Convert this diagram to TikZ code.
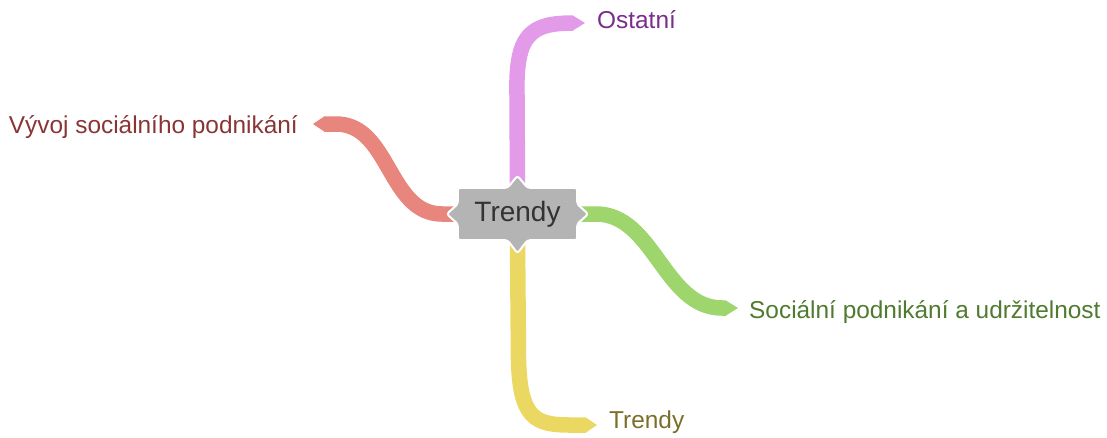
\documentclass[tikz,border=0pt]{standalone}
\usepackage{fontspec}
\setmainfont{Liberation Sans}
\usetikzlibrary{backgrounds,calc}
\definecolor{ribP}{HTML}{E29AE9}
\definecolor{ribR}{HTML}{E8857D}
\definecolor{ribG}{HTML}{9ED56C}
\definecolor{ribY}{HTML}{EBD862}
\definecolor{boxgray}{HTML}{B4B4B4}
\definecolor{txtgray}{HTML}{333333}
\definecolor{txtP}{HTML}{7A2D8A}
\definecolor{txtR}{HTML}{8A3535}
\definecolor{txtG}{HTML}{4F7A2F}
\definecolor{txtY}{HTML}{7A6E28}
\begin{document}
\begin{tikzpicture}[x=1pt,y=-1pt,
  rib/.style={line width=15.5pt, line cap=butt},
  lbl/.style={inner sep=0pt, font=\fontsize{24.4}{29}\selectfont},
  centre/.style={inner sep=0pt, minimum width=119pt, minimum height=52pt, text=txtgray, font=\fontsize{28}{32}\selectfont}]
\useasboundingbox (0,0) rectangle (1107,437);
% central topic
\node[centre] (c) at (517.5,214) {Trendy};
% ribbon end points
\coordinate (tP) at (585,23);
\coordinate (tR) at (313,124);
\coordinate (tG) at (738,308);
\coordinate (tY) at (597,425);
% labels
\node[lbl, text=txtP, anchor=base west] (lP) at (597,28.3) {Ostatní};
\node[lbl, text=txtR, anchor=base east] (lR) at (298,133.3) {Vývoj sociálního podnikání};
\node[lbl, text=txtG, anchor=base west] (lG) at (749,318.3) {Sociální podnikání a udržitelnost};
\node[lbl, text=txtY, anchor=base west] (lY) at (609,428.3) {Trendy};
\begin{pgfonlayer}{background}
  % purple
  \draw[rib, ribP] (c.north) -- (517,95) .. controls (515.5,35) and (530,23) .. ([xshift=-12pt]tP);
  \fill[ribP] ([xshift=-12.5pt,yshift=7.75pt]tP) -- (tP) -- ([xshift=-12.5pt,yshift=-7.75pt]tP) -- cycle;
  % red
  \draw[rib, ribR] (c.west) -- (442,214) .. controls (388,214) and (390,124) .. (336,124) -- ([xshift=11pt]tR);
  \fill[ribR] ([xshift=11.5pt,yshift=7.75pt]tR) -- (tR) -- ([xshift=11.5pt,yshift=-7.75pt]tR) -- cycle;
  % green
  \draw[rib, ribG] (c.east) -- (596,214) .. controls (654,214) and (664,308) .. (722,308) -- ([xshift=-12pt]tG);
  \fill[ribG] ([xshift=-12.5pt,yshift=7.75pt]tG) -- (tG) -- ([xshift=-12.5pt,yshift=-7.75pt]tG) -- cycle;
  % yellow
  \draw[rib, ribY] (c.south) -- (518.5,360) .. controls (520,418) and (535,425) .. (570,425) -- ([xshift=-11pt]tY);
  \fill[ribY] ([xshift=-11.5pt,yshift=7.75pt]tY) -- (tY) -- ([xshift=-11.5pt,yshift=-7.75pt]tY) -- cycle;
  % central shape
  \filldraw[fill=boxgray, draw=white, line width=2pt, rounded corners=2.5pt]
    (c.north west) -- ([xshift=-10pt]c.north) -- ([yshift=12pt]c.north) -- ([xshift=10pt]c.north)
    -- (c.north east) -- ([yshift=10pt]c.east) -- ([xshift=11pt]c.east) -- ([yshift=-10pt]c.east)
    -- (c.south east) -- ([xshift=10pt]c.south) -- ([yshift=-13pt]c.south) -- ([xshift=-10pt]c.south)
    -- (c.south west) -- ([yshift=-10pt]c.west) -- ([xshift=-11pt]c.west) -- ([yshift=10pt]c.west) -- cycle;
\end{pgfonlayer}
\end{tikzpicture}
\end{document}
